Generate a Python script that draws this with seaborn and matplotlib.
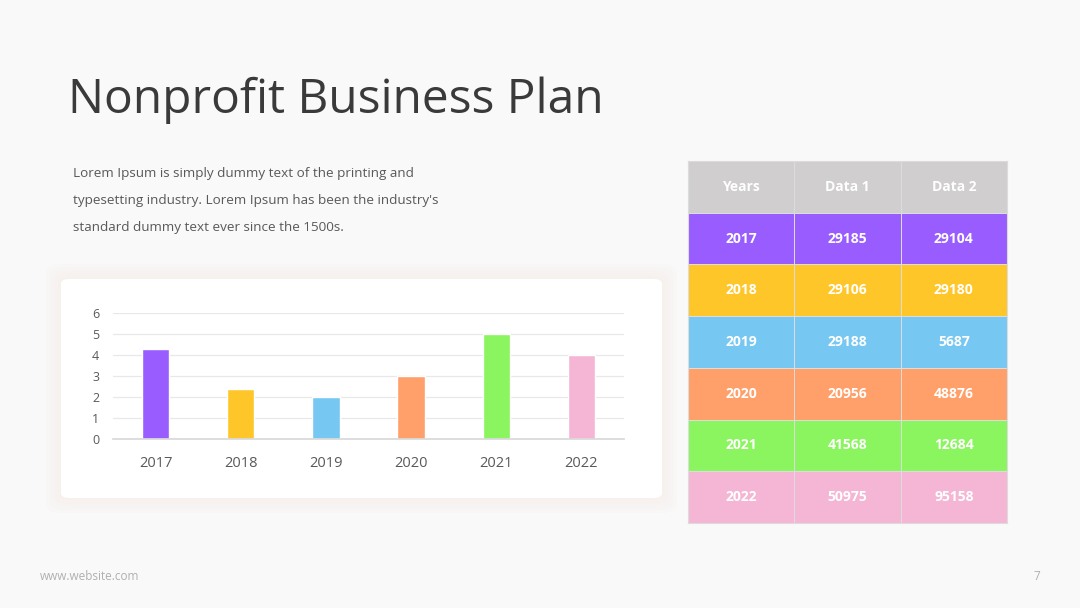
import numpy as np
import pandas as pd
import matplotlib
matplotlib.use("Agg")
import matplotlib.pyplot as plt
from matplotlib.colors import ListedColormap
from matplotlib.patches import FancyBboxPatch
import seaborn as sns

# ---- data ----
years = ["2017", "2018", "2019", "2020", "2021", "2022"]
bar_values = [4.3, 2.4, 2.0, 3.0, 5.0, 4.0]
data1 = [29185, 29106, 29188, 20956, 41568, 50975]
data2 = [29104, 29180, 5687, 48876, 12684, 95158]
table_header = ["Years", "Data 1", "Data 2"]
year_colors = ["#985CFF", "#FFC62A", "#76C8F2", "#FFA06A", "#8AF55E", "#F4B6D4"]
header_color = "#D0CECE"

sns.set_theme(style="white")
plt.rcParams['font.family'] = ['Open Sans', 'DejaVu Sans']

W, H = 1080, 608
fig = plt.figure(figsize=(W / 100, H / 100), dpi=100)
fig.patch.set_facecolor("#F9F9F9")


def fx(px):
    return px / W


def fy(py):
    return 1 - py / H


# ---- title and text ----
fig.text(fx(68), fy(100), "Nonprofit Business Plan", fontsize=34.5, color="#3A3A3A",
         va="center", ha="left")
body = ["Lorem Ipsum is simply dummy text of the printing and",
        "typesetting industry. Lorem Ipsum has been the industry's",
        "standard dummy text ever since the 1500s."]
for i, line in enumerate(body):
    fig.text(fx(73), fy(174 + 26.5 * i), line, fontsize=9.7, color="#595959",
             va="center", ha="left")
fig.text(fx(40), fy(577), "www.website.com", fontsize=8.5, color="#B0B0B0",
         va="center", ha="left")
fig.text(fx(1037), fy(577), "7", fontsize=8.5, color="#B0B0B0", va="center", ha="center")

# ---- card behind the chart (soft shadow) ----
for k in range(5):
    pad = (5 - k) * 3
    fig.patches.append(FancyBboxPatch((fx(61 - pad), fy(498 + pad)), fx(601 + 2 * pad), (219 + 2 * pad) / H,
                                      boxstyle="round,pad=0,rounding_size=0.015",
                                      transform=fig.transFigure, facecolor="#F7EEE9",
                                      edgecolor="none", alpha=0.15, zorder=0))
fig.patches.append(FancyBboxPatch((fx(61), fy(498)), fx(601), 219 / H,
                                  boxstyle="round,pad=0,rounding_size=0.008",
                                  transform=fig.transFigure, facecolor="white",
                                  edgecolor="none", zorder=1))

# ---- bar chart ----
ax = fig.add_axes([fx(113), fy(439), fx(511), 126 / H])
ax.set_zorder(2)
df = pd.DataFrame({"year": years, "value": bar_values})
sns.barplot(data=df, x="year", y="value", hue="year", palette=year_colors,
            width=0.32, legend=False, ax=ax, saturation=1)
ax.set_facecolor("none")
ax.set_xlim(-0.5, 5.5)
ax.set_ylim(0, 6)
ax.set_yticks(range(0, 7))
ax.yaxis.grid(True, color="#E8E8E8", linewidth=0.9)
ax.set_axisbelow(True)
for s in ["top", "right", "left"]:
    ax.spines[s].set_visible(False)
ax.spines["bottom"].set_color("#D9D9D9")
ax.set_xlabel("")
ax.set_ylabel("")
ax.tick_params(axis="x", labelsize=10.5, labelcolor="#595959", pad=12, length=0)
ax.tick_params(axis="y", labelsize=9, labelcolor="#595959", pad=10, length=0)

# ---- table as heatmap ----
tax = fig.add_axes([fx(688), fy(523), fx(319), 362 / H])
color_idx = np.arange(7).reshape(-1, 1).repeat(3, axis=1)
labels = [table_header] + [[y, str(a), str(b)] for y, a, b in zip(years, data1, data2)]
sns.heatmap(color_idx, annot=np.array(labels), fmt="", cmap=ListedColormap([header_color] + year_colors),
            vmin=-0.5, vmax=6.5, cbar=False, linewidths=0.6, linecolor="#DCDCDC", ax=tax,
            annot_kws={"color": "white", "fontsize": 10, "fontweight": "bold"})
tax.set_xticks([])
tax.set_yticks([])
for s in tax.spines.values():
    s.set_visible(True)
    s.set_color("#DCDCDC")
    s.set_linewidth(0.8)

fig.savefig("out.png", dpi=100, facecolor=fig.get_facecolor())
